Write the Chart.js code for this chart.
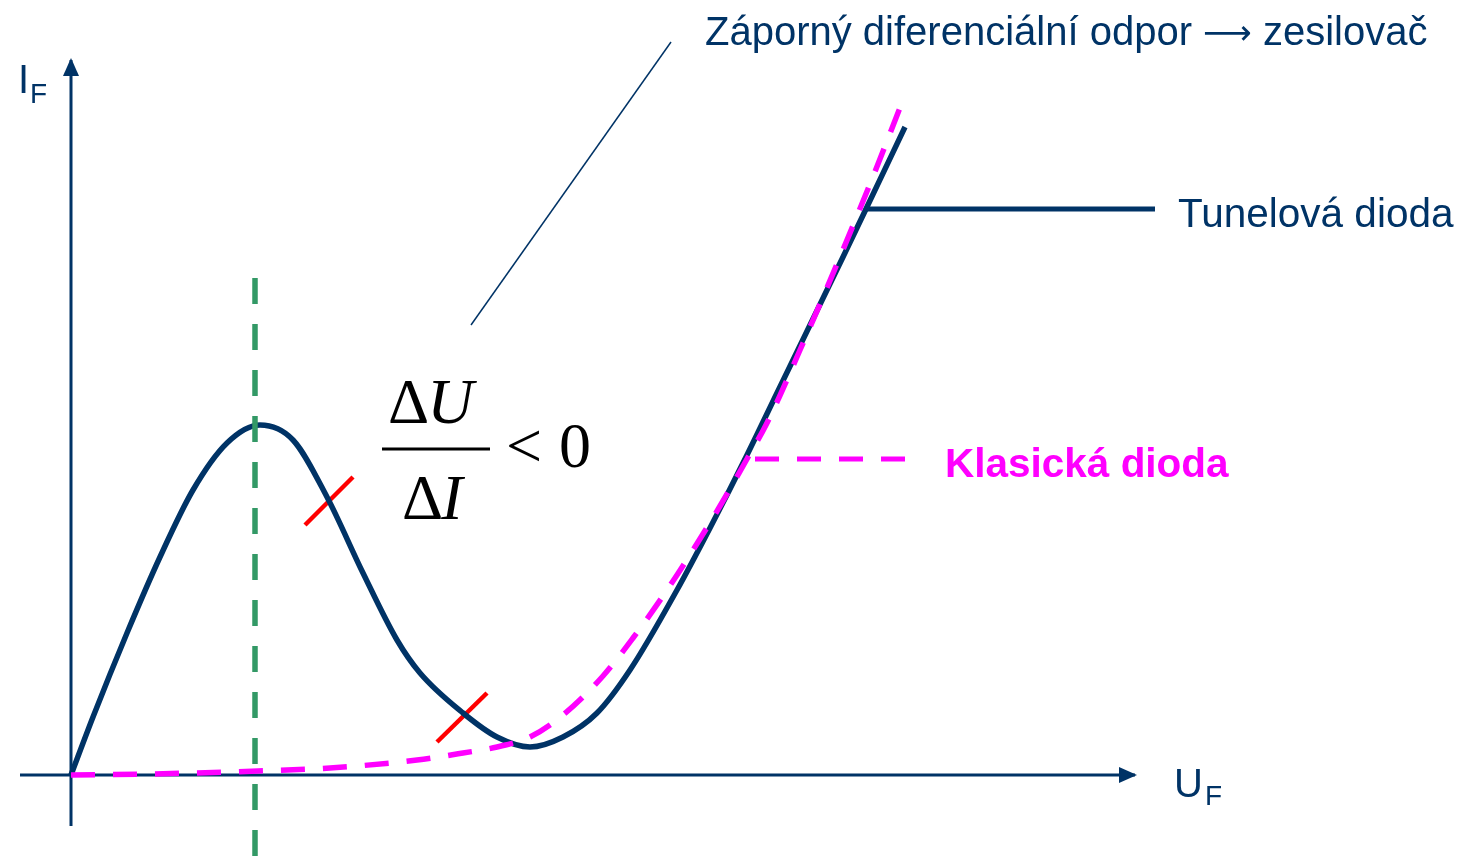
<!DOCTYPE html>
<html>
<head>
<meta charset="utf-8">
<script src="https://cdn.jsdelivr.net/npm/chart.js@4.4.1/dist/chart.umd.min.js"></script>
<style>
  html, body { margin: 0; padding: 0; background: #fff; }
  #wrap { width: 1470px; height: 856px; }
</style>
</head>
<body>
<div id="wrap"><canvas id="chart" width="1470" height="856"></canvas></div>
<script>
// units: U (x) and I (y), arbitrary, origin at the axes crossing
const tunnelU = [0, 0.22, 0.56, 0.89, 1.22, 1.56, 1.89, 2.22, 2.56, 2.92, 3.26, 3.49, 3.92, 4.26, 4.59, 4.92, 5.26, 5.59, 6.06, 6.39, 6.76, 7.06, 7.72, 7.95, 8.34];
const tunnelI = [0, 0.58, 1.42, 2.18, 2.85, 3.32, 3.50, 3.35, 2.78, 2.02, 1.35, 1.02, 0.62, 0.38, 0.28, 0.38, 0.62, 1.05, 1.85, 2.47, 3.20, 3.82, 5.18, 5.66, 6.48];

const classicU = [0, 0.79, 1.87, 2.59, 3.46, 3.92, 4.26, 4.59, 4.92, 5.32, 5.62, 5.92, 6.22, 6.49, 6.76, 6.96, 7.29, 7.66, 7.99, 8.16, 8.34];
const classicI = [0, 0.01, 0.04, 0.07, 0.15, 0.22, 0.28, 0.38, 0.60, 0.99, 1.37, 1.79, 2.25, 2.69, 3.16, 3.52, 4.25, 5.11, 5.91, 6.34, 6.80];

const peakU = 1.84;                 // green dashed line
const peakLineI = [-0.81, 5.0];

const tick1U = [2.34, 2.82], tick1I = [2.50, 2.98];
const tick2U = [3.66, 4.16], tick2I = [0.33, 0.82];

const noteLineU = [4.00, 6.00], noteLineI = [4.50, 7.33];
const tunnelLeaderU = [7.95, 10.84], tunnelLeaderI = [5.66, 5.66];
const classicLeaderU = [6.84, 8.49], classicLeaderI = [3.16, 3.16];

const titleLeft = "Záporný diferenciální odpor";
const titleArrow = "⟶";
const titleRight = "zesilovač";
const tunnelText = "Tunelová dioda";
const classicText = "Klasická dioda";

const navy = "#003366";
const magenta = "#ff00ff";
const green = "#339966";
const red = "#ff0000";

function pts(xs, ys) {
  return xs.map((x, i) => ({ x: x, y: ys[i] }));
}

const overlay = {
  id: "overlay",
  beforeDatasetsDraw(chart) {
    const { ctx, scales: { x, y } } = chart;
    const ox = x.getPixelForValue(0), oy = y.getPixelForValue(0);
    ctx.save();
    ctx.strokeStyle = navy;
    ctx.fillStyle = navy;
    ctx.lineWidth = 3;
    // x axis
    const xEnd = x.getPixelForValue(10.66);
    ctx.beginPath();
    ctx.moveTo(x.getPixelForValue(-0.51), oy);
    ctx.lineTo(xEnd - 2, oy);
    ctx.stroke();
    ctx.beginPath();
    ctx.moveTo(xEnd, oy);
    ctx.lineTo(xEnd - 18, oy - 8);
    ctx.lineTo(xEnd - 18, oy + 8);
    ctx.closePath();
    ctx.fill();
    // y axis
    const yEnd = y.getPixelForValue(7.17);
    ctx.beginPath();
    ctx.moveTo(ox, y.getPixelForValue(-0.51));
    ctx.lineTo(ox, yEnd + 2);
    ctx.stroke();
    ctx.beginPath();
    ctx.moveTo(ox, yEnd);
    ctx.lineTo(ox - 8, yEnd + 18);
    ctx.lineTo(ox + 8, yEnd + 18);
    ctx.closePath();
    ctx.fill();
    ctx.restore();
  },
  afterDatasetsDraw(chart) {
    const { ctx, scales: { x, y } } = chart;
    const px = v => x.getPixelForValue(v), py = v => y.getPixelForValue(v);
    const sans = "'Liberation Sans', Arial, sans-serif";
    ctx.save();
    ctx.textBaseline = "alphabetic";
    ctx.fillStyle = navy;

    // title with a long thin arrow
    ctx.font = "40px " + sans;
    let tx = px(6.34);
    const tb = py(7.30);
    ctx.fillText(titleLeft, tx, tb);
    tx += ctx.measureText(titleLeft + " ").width;
    ctx.font = "34px 'DejaVu Sans', sans-serif";
    ctx.fillText(titleArrow, tx, tb - 1);
    tx += ctx.measureText(titleArrow).width;
    ctx.font = "40px " + sans;
    tx += ctx.measureText(" ").width;
    ctx.fillText(titleRight, tx, tb);

    ctx.font = "40.5px " + sans;
    ctx.fillText(tunnelText, px(11.07), py(5.48));

    // axis names with subscripts
    ctx.font = "40px " + sans;
    ctx.fillText("I", px(-0.53), py(6.82));
    const w = ctx.measureText("I").width;
    ctx.fillText("U", px(11.03), py(-0.22));
    const wu = ctx.measureText("U").width;
    ctx.font = "28px " + sans;
    ctx.fillText("F", px(-0.53) + w + 1, py(6.82) + 10);
    ctx.fillText("F", px(11.03) + wu + 2, py(-0.22) + 8);

    ctx.fillStyle = magenta;
    ctx.font = "bold 40.5px " + sans;
    ctx.fillText(classicText, px(8.74), py(2.98));

    // fraction dU / dI < 0
    ctx.fillStyle = "#000";
    const serif = "'Liberation Serif', 'Times New Roman', serif";
    function delta(letter, left, base) {
      ctx.font = "64px " + serif;
      const dw = ctx.measureText("Δ").width;
      ctx.fillText("Δ", left, base);
      ctx.font = "italic 64px " + serif;
      ctx.fillText(letter, left + dw - 2, base);
    }
    delta("U", px(3.17), py(3.52));
    delta("I", px(3.31), py(2.56));
    ctx.fillRect(px(3.11), py(3.26) - 1.5, px(4.19) - px(3.11), 3);
    ctx.font = "64px " + serif;
    ctx.fillText("<", px(4.35), py(3.08));
    ctx.fillText("0", px(4.88), py(3.08));
    ctx.restore();
  }
};

new Chart(document.getElementById("chart"), {
  type: "scatter",
  data: {
    datasets: [
      {
        label: "peak",
        data: pts([peakU, peakU], peakLineI),
        showLine: true,
        borderColor: green,
        borderWidth: 5.5,
        borderDash: [26, 20],
        pointRadius: 0
      },
      {
        label: "Klasická dioda",
        data: pts(classicU, classicI),
        showLine: true,
        borderColor: magenta,
        borderWidth: 5.5,
        borderDash: [24, 18],
        cubicInterpolationMode: "monotone",
        pointRadius: 0
      },
      {
        label: "Tunelová dioda",
        data: pts(tunnelU, tunnelI),
        showLine: true,
        borderColor: navy,
        borderWidth: 5.5,
        cubicInterpolationMode: "monotone",
        pointRadius: 0
      },
      {
        label: "tick1",
        data: pts(tick1U, tick1I),
        showLine: true,
        borderColor: red,
        borderWidth: 4.5,
        pointRadius: 0
      },
      {
        label: "tick2",
        data: pts(tick2U, tick2I),
        showLine: true,
        borderColor: red,
        borderWidth: 4.5,
        pointRadius: 0
      },
      {
        label: "note",
        data: pts(noteLineU, noteLineI),
        showLine: true,
        borderColor: navy,
        borderWidth: 1.5,
        pointRadius: 0
      },
      {
        label: "tunnelLeader",
        data: pts(tunnelLeaderU, tunnelLeaderI),
        showLine: true,
        borderColor: navy,
        borderWidth: 5,
        pointRadius: 0
      },
      {
        label: "classicLeader",
        data: pts(classicLeaderU, classicLeaderI),
        showLine: true,
        borderColor: magenta,
        borderWidth: 5,
        borderDash: [24, 18],
        pointRadius: 0
      }
    ]
  },
  options: {
    responsive: false,
    animation: false,
    layout: { padding: 0 },
    scales: {
      x: { type: "linear", min: -0.71, max: 13.99, display: false },
      y: { type: "linear", min: -0.81, max: 7.75, display: false }
    },
    plugins: {
      legend: { display: false },
      tooltip: { enabled: false }
    }
  },
  plugins: [overlay]
});
</script>
</body>
</html>
